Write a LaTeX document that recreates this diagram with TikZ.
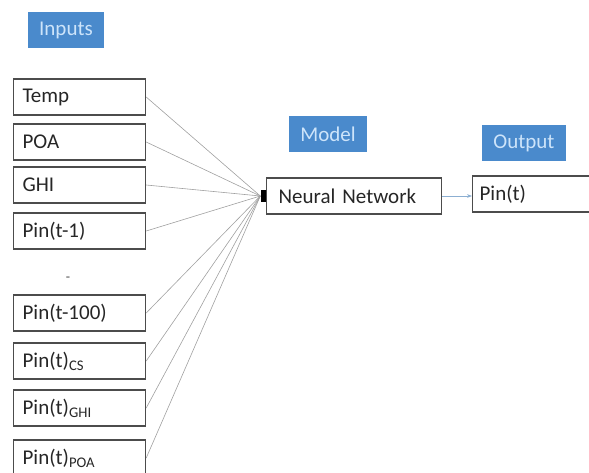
\documentclass[tikz,border=0pt]{standalone}
\usepackage{fontspec}
\setmainfont{Carlito}
\usetikzlibrary{positioning, arrows.meta}

\definecolor{tagblue}{RGB}{74,138,204}
\definecolor{tagtext}{RGB}{205,228,250}
\definecolor{wiregray}{RGB}{160,160,160}
\definecolor{linkblue}{RGB}{140,175,210}

\tikzset{
    inbox/.style={draw=black!70, text=black!85, line width=1.2pt, minimum height=36pt, text width=114pt, inner xsep=9pt, align=left, anchor=west},
    tag/.style={fill=tagblue, text=tagtext, minimum height=36pt, inner xsep=11pt},
    wire/.style={draw=wiregray, line width=0.6pt}
}

\begin{document}
\begin{tikzpicture}[x=1pt, y=-1pt, font=\fontsize{21}{25}\selectfont]
        \useasboundingbox (0,0) rectangle (589,472);
        \clip (0,0) rectangle (589,472);

        % inputs column
        \node (inputs) [tag] at (66,30) {Inputs};
        \node (temp) [inbox] at (13,97) {Temp};
        \node (poa) [inbox] at (13,142) {POA};
        \node (ghi) [inbox] at (13,185) {GHI};
        \node (pin1) [inbox] at (13,231) {Pin(t-1)};
        \node (gap) [text=black!70, font=\fontsize{14}{16}\selectfont] at (68,279) {-};
        \node (pin100) [inbox] at (13,313) {Pin(t-100)};
        \node (pincs) [inbox] at (13,361) {Pin(t)\textsubscript{CS}};
        \node (pinghi) [inbox] at (13,408) {Pin(t)\textsubscript{GHI}};
        \node (pinpoa) [inbox] at (13,458) {Pin(t)\textsubscript{POA}};

        % model
        \node (model) [tag] at (328,134) {Model};
        \node (nn) [inbox, text width=151pt, inner xsep=12pt] at (266,196) {Neural Network};
        \node (dot) [fill=black, minimum width=5pt, minimum height=12pt, inner sep=0pt] at (263,196) {};

        \foreach \n in {temp, poa, ghi, pin1, pin100, pincs, pinghi, pinpoa}
            \draw [wire] (\n.east) -- (dot.west);

        % output
        \node (output) [tag] at (524,143) {Output};
        \node (out) [inbox, inner xsep=7pt] at (472,194) {Pin(t)};
        \draw [draw=linkblue, line width=0.8pt, -{Stealth[length=5pt]}] (nn.east) -- (nn.east -| out.west);
\end{tikzpicture}
\end{document}
